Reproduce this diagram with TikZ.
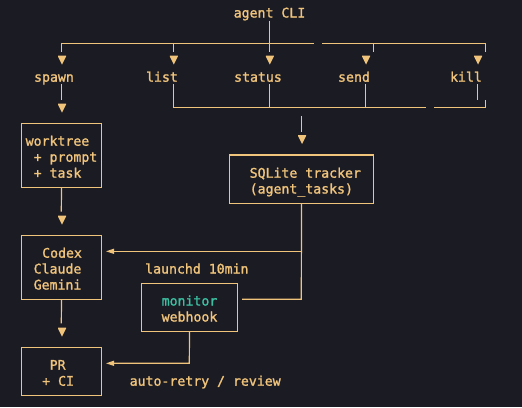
\documentclass[tikz,border=0pt]{standalone}
\usepackage{fontspec}
\setmonofont[FakeBold=1.5]{DejaVu Sans Mono}
\usetikzlibrary{arrows.meta}
\definecolor{bgc}{HTML}{1B1B24}
\definecolor{amber}{HTML}{F0C47A}
\definecolor{mint}{HTML}{3CBFA0}
\begin{document}
\begin{tikzpicture}[x=1pt,y=-1pt,
  txt/.style={text=amber,font=\ttfamily\fontsize{13.2}{16}\selectfont,inner sep=0pt,anchor=base west},
  ctxt/.style={txt,anchor=base},
  box/.style={draw=amber,line width=1.2pt,inner sep=0pt},
  wire/.style={draw=amber,line width=1.2pt},
  tip/.style={wire,-{Triangle[length=8pt,width=5pt]}},
  downtri/.pic={\fill[amber] (-4,-4.5) -- (4,-4.5) -- (4,-3.5) -- (0,4.5) -- (-4,-3.5) -- cycle;}
]
\fill[bgc] (0,0) rectangle (522,407);
\useasboundingbox (0,0) rectangle (522,407);

% top row
\node[ctxt] (cli) at (269.5,17.5) {agent CLI};
\node[ctxt] (spawn) at (54,81.7) {spawn};
\node[ctxt] (list) at (162,81.7) {list};
\node[ctxt] (status) at (258,81.7) {status};
\node[ctxt] (send) at (354,81.7) {send};
\node[ctxt] (kill) at (466,81.7) {kill};

% boxes
\node[box,minimum width=80.4pt,minimum height=64pt] (wt) at (61.5,155.3) {};
\node[txt] (wt1) at (25.5,145.7) {worktree};
\node[txt] (wt2) at (33.5,161.7) {+ prompt};
\node[txt] (wt3) at (33.5,177.7) {+ task};

\node[box,minimum width=144.4pt,minimum height=48.3pt] (sq) at (301.5,179.2) {};
\node[txt] (sq1) at (249.5,177.7) {SQLite tracker};
\node[txt] (sq2) at (249.5,193.5) {(agent\_tasks)};

\node[box,minimum width=80.4pt,minimum height=64pt] (cx) at (61.5,267.3) {};
\node[txt] (cx1) at (42,257.7) {Codex};
\node[txt] (cx2) at (33.5,273.5) {Claude};
\node[txt] (cx3) at (33.5,289.5) {Gemini};

\node[box,minimum width=96.4pt,minimum height=48pt] (mon) at (189.5,307.3) {};
\node[txt,text=mint] (mon1) at (161.5,305.5) {monitor};
\node[txt] (mon2) at (161.5,321.5) {webhook};

\node[box,minimum width=80.4pt,minimum height=48pt] (pr) at (61.5,371.3) {};
\node[txt] (pr1) at (49.5,369.7) {PR};
\node[txt] (pr2) at (42,385.7) {+ CI};

\node[txt] (lbl1) at (145,273.5) {launchd 10min};
\node[txt] (lbl2) at (129.5,385.7) {auto-retry / review};

% coordinates
\coordinate (busL) at (61.3,43.3);
\coordinate (busM) at (314,43.3);
\coordinate (busM2) at (322,43.3);
\coordinate (busR) at (485.3,43.3);
\coordinate (tSpawn) at (62,60);
\coordinate (tList) at (173.8,60);
\coordinate (tStatus) at (269.8,60);
\coordinate (tSend) at (366,60);
\coordinate (tKill) at (478,60);
\coordinate (tWt) at (62,108);
\coordinate (tSq) at (302,139.5);
\coordinate (tCx) at (62,220);
\coordinate (tPr) at (62,332);
\coordinate (sqBranch) at (301.3,251.3);
\coordinate (sqCorner) at (301.3,299.3);
\coordinate (monIn) at (242,299.3);
\coordinate (cxIn) at (106,251.3);
\coordinate (monCorner) at (189.3,363.3);
\coordinate (prIn) at (106,363.3);

% top fan-out
\draw[wire] (cli.south) -- (269.5,51.7);
\draw[wire] (busL) -- (busM);
\draw[wire] (busM2) -- (busR);
\draw[wire] (busL) -- (61.3,51.7);
\draw[wire] (173.3,43.3) -- (173.3,51.7);
\draw[wire] (373.3,43.3) -- (373.3,51.7);
\draw[wire] (busR) -- (485.3,51.7);
\foreach \t in {tSpawn,tList,tStatus,tSend,tKill,tWt,tSq,tCx,tPr} \pic at (\t) {downtri};

% lower gather
\draw[wire] (61.3,84) -- (61.3,100);
\draw[wire] (173.3,84) -- (173.3,107.7) -- (425.7,107.7);
\draw[wire] (269.5,84) -- (269.5,107.7);
\draw[wire] (365.7,84) -- (365.7,107.7);
\draw[wire] (477.7,84) -- (477.7,100);
\draw[wire] (485.3,100) -- (485.3,107.7) -- (434,107.7);
\draw[wire] (301.3,116) -- (301.3,132);

% vertical chain
\draw[wire] (wt.south) -- (61.3,211.7);
\draw[wire] (cx.south) -- (61.3,323.3);

% tracker feedback
\draw[wire] (sq.south) -- (sqCorner) -- (monIn);
\draw[tip] (sqBranch) -- (cxIn);
\draw[tip] (mon.south) -- (monCorner) -- (prIn);
\end{tikzpicture}
\end{document}
